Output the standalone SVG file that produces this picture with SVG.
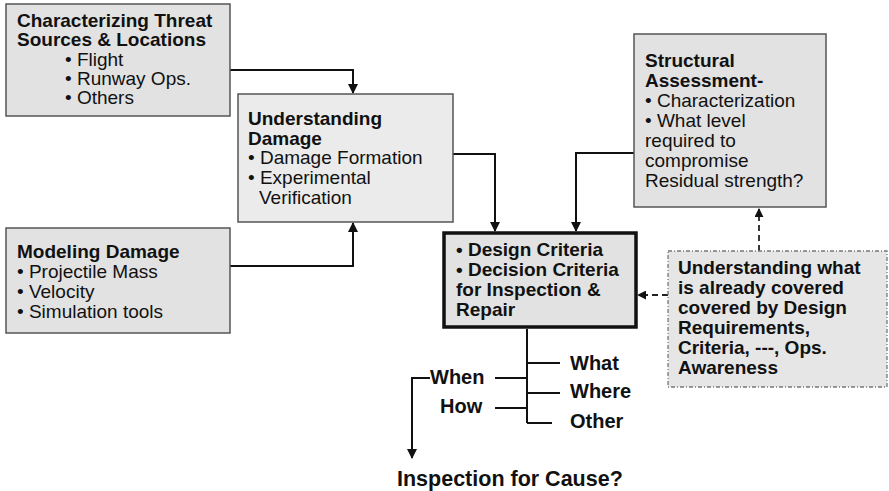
<svg xmlns="http://www.w3.org/2000/svg" width="889" height="491" viewBox="0 0 889 491">
  <style>
    .box { fill: #e2e2e2; stroke: #555; stroke-width: 1.5; }
    .light { fill: #ebebeb; }
    .main { fill: #e2e2e2; stroke: #111; stroke-width: 3.5; }
    .note { fill: #e6e6e6; stroke: #777; stroke-width: 1.3; stroke-dasharray: 4 2 1 2; }
    text { font-family: "Liberation Sans", Arial, sans-serif; font-size: 19px; fill: #111; }
    .b { font-weight: bold; }
    .lbl { font-weight: bold; font-size: 20px; }
    .title { font-weight: bold; font-size: 21.5px; }
    .wire { fill: none; stroke: #111; stroke-width: 2; }
    .dash { fill: none; stroke: #222; stroke-width: 1.8; stroke-dasharray: 6 4; }
  </style>
  <defs>
    <marker id="arr" viewBox="0 0 10 10" refX="9" refY="5" markerWidth="5" markerHeight="5" orient="auto">
      <path d="M0,0 L10,5 L0,10 z" fill="#111"/>
    </marker>
  </defs>

  <rect width="889" height="491" fill="#fff"/>

  <g id="connectors">
    <polyline class="wire" points="230,70 353,70 353,93" marker-end="url(#arr)"/>
    <polyline class="wire" points="230,266 353,266 353,223" marker-end="url(#arr)"/>
    <polyline class="wire" points="453,154 495,154 495,231" marker-end="url(#arr)"/>
    <polyline class="wire" points="634,153 576,153 576,231" marker-end="url(#arr)"/>
    <line class="dash" x1="759" y1="251" x2="759" y2="209" marker-end="url(#arr)"/>
    <line class="dash" x1="668" y1="295" x2="638" y2="295" marker-end="url(#arr)"/>
    <!-- decision tree below the criteria box -->
    <line class="wire" x1="527" y1="329" x2="527" y2="423"/>
    <line class="wire" x1="527" y1="363" x2="560" y2="363"/>
    <line class="wire" x1="527" y1="393" x2="560" y2="393"/>
    <line class="wire" x1="527" y1="423" x2="552" y2="423"/>
    <line class="wire" x1="495" y1="378" x2="527" y2="378"/>
    <line class="wire" x1="495" y1="408" x2="527" y2="408"/>
    <polyline class="wire" points="430,378 412,378 412,458" marker-end="url(#arr)"/>
  </g>

  <g id="threat-sources">
    <rect class="box" x="6" y="4" width="224" height="112"/>
    <text class="b" x="17" y="27">Characterizing Threat</text>
    <text class="b" x="17" y="46">Sources &amp; Locations</text>
    <text x="65" y="66">• Flight</text>
    <text x="65" y="85">• Runway Ops.</text>
    <text x="65" y="104">• Others</text>
  </g>

  <g id="understanding-damage">
    <rect class="box light" x="238" y="94" width="215" height="128"/>
    <text class="b" x="248" y="125">Understanding</text>
    <text class="b" x="248" y="145">Damage</text>
    <text x="248" y="164">• Damage Formation</text>
    <text x="248" y="184">• Experimental</text>
    <text x="259" y="204">Verification</text>
  </g>

  <g id="modeling-damage">
    <rect class="box" x="6" y="228" width="224" height="105"/>
    <text class="b" x="17" y="258">Modeling Damage</text>
    <text x="17" y="278">• Projectile Mass</text>
    <text x="17" y="298">• Velocity</text>
    <text x="17" y="318">• Simulation tools</text>
  </g>

  <g id="structural-assessment">
    <rect class="box" x="634" y="34" width="192" height="173"/>
    <text class="b" x="645" y="67">Structural</text>
    <text class="b" x="645" y="87">Assessment-</text>
    <text x="645" y="107">• Characterization</text>
    <text x="645" y="127">• What level</text>
    <text x="645" y="147">required to</text>
    <text x="645" y="167">compromise</text>
    <text x="645" y="187">Residual strength?</text>
  </g>

  <g id="criteria">
    <rect class="main" x="444" y="233" width="192" height="94"/>
    <text class="b" x="456" y="256">• Design Criteria</text>
    <text class="b" x="456" y="276">• Decision Criteria</text>
    <text class="b" x="456" y="296">for Inspection &amp;</text>
    <text class="b" x="456" y="316">Repair</text>
  </g>

  <g id="coverage">
    <rect class="note" x="668" y="251" width="219" height="136"/>
    <text class="b" x="678" y="274">Understanding what</text>
    <text class="b" x="678" y="294">is already covered</text>
    <text class="b" x="678" y="314">covered by Design</text>
    <text class="b" x="678" y="334">Requirements,</text>
    <text class="b" x="678" y="354">Criteria, ---, Ops.</text>
    <text class="b" x="678" y="374">Awareness</text>
  </g>

  <g id="tree-labels">
    <text class="lbl" x="570" y="370">What</text>
    <text class="lbl" x="570" y="398">Where</text>
    <text class="lbl" x="570" y="428">Other</text>
    <text class="lbl" x="430" y="384">When</text>
    <text class="lbl" x="440" y="413">How</text>
  </g>

  <g id="inspection">
    <text class="title" x="397" y="486">Inspection for Cause?</text>
  </g>
</svg>
